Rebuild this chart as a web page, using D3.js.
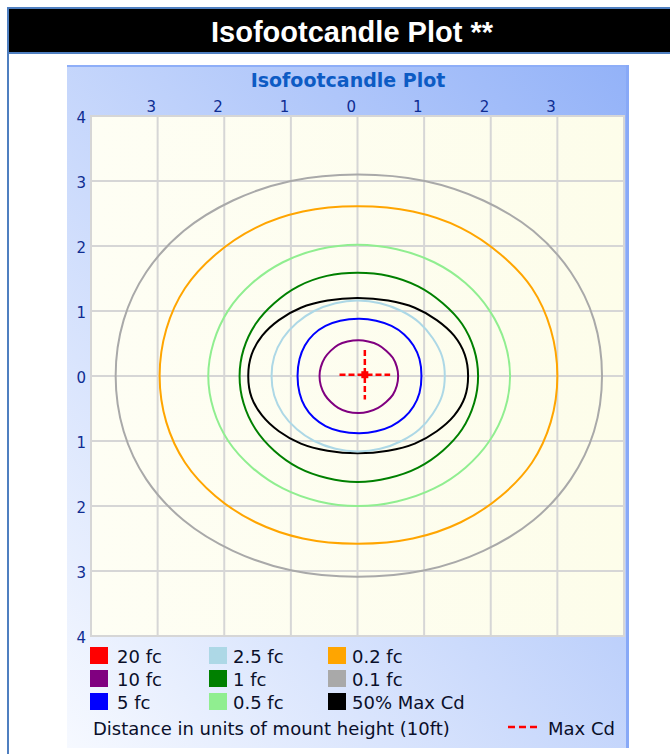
<!DOCTYPE html>
<meta charset="utf-8">
<script src="https://d3js.org/d3.v7.min.js"></script>
<div id="my_dataviz"></div>
<style>
body { margin: 0; background: #fff; }
.tick text { font-family: "DejaVu Sans"; }
</style>
<script>
// legend levels and their colours
var levels = ["20 fc", "10 fc", "5 fc", "2.5 fc", "1 fc", "0.5 fc", "0.2 fc", "0.1 fc", "50% Max Cd"];
var levelColors = ["#ff0000", "#800080", "#0000ff", "#add8e6", "#008000", "#90ee90", "#ffa500", "#a9a9a9", "#000000"];

// contour outlines, [x, y] in mount heights
var c01 = [[3.67,0],[3.55,0.86],[3.20,1.60],[2.64,2.23],[1.89,2.70],[1.01,3.00],[0,3.10],[-1.00,3.00],[-1.87,2.70],[-2.61,2.23],[-3.17,1.60],[-3.51,0.86],
  [-3.63,0],[-3.51,-0.85],[-3.17,-1.59],[-2.61,-2.22],[-1.87,-2.69],[-1.00,-2.99],[0,-3.09],[1.01,-2.99],[1.89,-2.69],[2.64,-2.22],[3.20,-1.59],[3.55,-0.85]];
var c02 = [[3.0,0],[2.90,0.72],[2.62,1.35],[2.15,1.87],[1.55,2.28],[0.83,2.53],[0,2.61],[-0.82,2.53],[-1.53,2.28],[-2.13,1.87],[-2.59,1.35],[-2.87,0.72],
  [-2.97,0],[-2.87,-0.71],[-2.59,-1.33],[-2.13,-1.85],[-1.53,-2.25],[-0.82,-2.50],[0,-2.58],[0.83,-2.50],[1.55,-2.25],[2.15,-1.85],[2.62,-1.33],[2.90,-0.71]];
var c05 = [[2.29,0],[2.21,0.52],[1.98,1.01],[1.62,1.43],[1.15,1.75],[0.59,1.95],[0,2.02],[-0.58,1.95],[-1.12,1.75],[-1.58,1.43],[-1.94,1.01],[-2.16,0.52],
  [-2.24,0],[-2.16,-0.52],[-1.94,-1.0],[-1.58,-1.41],[-1.12,-1.73],[-0.58,-1.93],[0,-2.0],[0.59,-1.93],[1.15,-1.73],[1.62,-1.41],[1.98,-1.0],[2.21,-0.52]];
var c1 = [[1.81,0],[1.75,0.41],[1.57,0.80],[1.28,1.12],[0.91,1.38],[0.47,1.54],[0,1.59],[-0.46,1.54],[-0.89,1.38],[-1.25,1.12],[-1.53,0.80],[-1.71,0.41],
  [-1.77,0],[-1.71,-0.42],[-1.53,-0.82],[-1.25,-1.15],[-0.89,-1.41],[-0.46,-1.57],[0,-1.63],[0.47,-1.57],[0.91,-1.41],[1.28,-1.15],[1.57,-0.82],[1.75,-0.42]];
var cMax50 = [[1.66,0],[1.61,0.33],[1.45,0.62],[1.19,0.86],[0.86,1.05],[0.46,1.16],[0,1.20],[-0.45,1.16],[-0.85,1.05],[-1.18,0.86],[-1.43,0.62],[-1.59,0.33],
  [-1.64,0],[-1.59,-0.33],[-1.43,-0.61],[-1.18,-0.85],[-0.85,-1.04],[-0.45,-1.15],[0,-1.19],[0.46,-1.15],[0.86,-1.04],[1.19,-0.85],[1.45,-0.61],[1.61,-0.33]];
var c25 = [[1.31,0],[1.27,0.30],[1.13,0.58],[0.93,0.82],[0.66,1.00],[0.34,1.12],[0,1.16],[-0.33,1.12],[-0.65,1.00],[-0.91,0.82],[-1.12,0.58],[-1.25,0.30],
  [-1.29,0],[-1.25,-0.30],[-1.12,-0.58],[-0.91,-0.82],[-0.65,-1.00],[-0.33,-1.12],[0,-1.16],[0.34,-1.12],[0.66,-1.00],[0.93,-0.82],[1.13,-0.58],[1.27,-0.30]];
var c5 = [[0.96,0],[0.93,0.26],[0.84,0.47],[0.70,0.64],[0.51,0.77],[0.28,0.85],[0.03,0.88],[-0.26,0.85],[-0.48,0.77],[-0.66,0.64],[-0.79,0.47],[-0.87,0.26],
  [-0.90,0],[-0.87,-0.26],[-0.79,-0.47],[-0.66,-0.64],[-0.48,-0.77],[-0.26,-0.85],[0.03,-0.88],[0.28,-0.85],[0.51,-0.77],[0.70,-0.64],[0.84,-0.47],[0.93,-0.26]];
var c10 = [[0.61,0],[0.59,0.14],[0.53,0.28],[0.43,0.39],[0.31,0.48],[0.16,0.53],[0.02,0.55],[-0.15,0.53],[-0.29,0.48],[-0.40,0.39],[-0.49,0.28],[-0.55,0.14],
  [-0.57,0],[-0.55,-0.15],[-0.49,-0.29],[-0.40,-0.40],[-0.29,-0.49],[-0.15,-0.55],[0.02,-0.57],[0.16,-0.55],[0.31,-0.49],[0.43,-0.40],[0.53,-0.29],[0.59,-0.15]];
var maxCd = [0.11, 0.02];

var contours = [
  {level: "0.1 fc", pts: c01},
  {level: "0.2 fc", pts: c02},
  {level: "0.5 fc", pts: c05},
  {level: "1 fc", pts: c1},
  {level: "50% Max Cd", pts: cMax50},
  {level: "2.5 fc", pts: c25},
  {level: "5 fc", pts: c5},
  {level: "10 fc", pts: c10}
];

var xTicks = [-3, -2, -1, 0, 1, 2, 3];
var yTicks = [-4, -3, -2, -1, 0, 1, 2, 3, 4];
var gridValues = [-4, -3, -2, -1, 0, 1, 2, 3, 4];

var W = 670, H = 754;
var plot = {left: 91, top: 116, right: 624, bottom: 636};

var svg = d3.select("#my_dataviz")
  .append("svg")
    .attr("width", W)
    .attr("height", H)
    .style("display", "block");

var defs = svg.append("defs");
var pg = defs.append("linearGradient").attr("id", "panelGrad")
  .attr("x1", 0).attr("y1", 1).attr("x2", 1).attr("y2", 0);
pg.append("stop").attr("offset", 0).attr("stop-color", "#f6f9ff");
pg.append("stop").attr("offset", 1).attr("stop-color", "#93b2f8");
var bg = defs.append("linearGradient").attr("id", "plotGrad")
  .attr("x1", 0).attr("y1", 0).attr("x2", 1).attr("y2", 0);
bg.append("stop").attr("offset", 0).attr("stop-color", "#fefef4");
bg.append("stop").attr("offset", 1).attr("stop-color", "#fdfdea");

// page frame and header bar
svg.append("rect").attr("x", 8).attr("y", 8).attr("width", W).attr("height", H)
  .attr("fill", "#fff").attr("stroke", "#4f7fc0").attr("stroke-width", 2);
svg.append("rect").attr("x", 9).attr("y", 9).attr("width", W).attr("height", 43)
  .attr("fill", "#000");
svg.append("rect").attr("x", 9).attr("y", 52).attr("width", W).attr("height", 2)
  .attr("fill", "#4f7fc0");
svg.append("text")
  .attr("x", 352).attr("y", 42)
  .attr("text-anchor", "middle")
  .style("font-family", "Liberation Sans")
  .style("font-weight", "bold")
  .style("font-size", "29px")
  .attr("fill", "#fff")
  .text("Isofootcandle Plot **");

// chart panel
svg.append("rect").attr("x", 67).attr("y", 65).attr("width", 561).attr("height", 683)
  .attr("fill", "url(#panelGrad)");
svg.append("rect").attr("x", 67).attr("y", 65).attr("width", 561).attr("height", 2)
  .attr("fill", "#8eaef8");
svg.append("rect").attr("x", 626).attr("y", 65).attr("width", 3).attr("height", 683)
  .attr("fill", "#88a9f7");

svg.append("text")
  .attr("x", 348).attr("y", 87)
  .attr("text-anchor", "middle")
  .style("font-family", "DejaVu Sans")
  .style("font-weight", "bold")
  .style("font-size", "19px")
  .attr("fill", "#0d5bc4")
  .text("Isofootcandle Plot");

var x = d3.scaleLinear().domain([-4, 4]).range([plot.left, plot.right]);
var y = d3.scaleLinear().domain([-4, 4]).range([plot.bottom, plot.top]);

svg.append("rect")
  .attr("x", plot.left).attr("y", plot.top)
  .attr("width", plot.right - plot.left).attr("height", plot.bottom - plot.top)
  .attr("fill", "url(#plotGrad)");

// grid
svg.append("g").selectAll("line.vg").data(gridValues).enter().append("line")
  .attr("x1", function(d){ return x(d); }).attr("x2", function(d){ return x(d); })
  .attr("y1", plot.top).attr("y2", plot.bottom)
  .attr("stroke", "#d6d6d6").attr("stroke-width", 2);
svg.append("g").selectAll("line.hg").data(gridValues).enter().append("line")
  .attr("y1", function(d){ return y(d); }).attr("y2", function(d){ return y(d); })
  .attr("x1", plot.left - 1).attr("x2", plot.right + 1)
  .attr("stroke", "#d6d6d6").attr("stroke-width", 2);

// axes: labels only
var xAxis = svg.append("g")
  .attr("transform", "translate(0," + plot.top + ")")
  .call(d3.axisTop(x).tickValues(xTicks).tickSize(0).tickPadding(4)
    .tickFormat(function(d){ return Math.abs(d); }));
xAxis.select(".domain").remove();
xAxis.selectAll("text")
  .attr("text-anchor", "end").attr("dx", -2)
  .style("font-size", "15px").attr("fill", "#0f2d92");

var yAxis = svg.append("g")
  .attr("transform", "translate(" + plot.left + ",0)")
  .call(d3.axisLeft(y).tickValues(yTicks).tickSize(0).tickPadding(5)
    .tickFormat(function(d){ return Math.abs(d); }));
yAxis.select(".domain").remove();
yAxis.selectAll("text")
  .attr("dy", "0.42em")
  .style("font-size", "15px").attr("fill", "#0f2d92");

// contours
var color = d3.scaleOrdinal().domain(levels).range(levelColors);
var line = d3.line()
  .x(function(d){ return x(d[0]); })
  .y(function(d){ return y(d[1]); })
  .curve(d3.curveCatmullRomClosed.alpha(0.5));

svg.append("g").selectAll("path").data(contours).enter().append("path")
  .attr("d", function(d){ return line(d.pts); })
  .attr("fill", "none")
  .attr("stroke", function(d){ return color(d.level); })
  .attr("stroke-width", 2);

// max candela marker
var crossHalf = 0.38;
svg.append("line")
  .attr("x1", x(maxCd[0] - crossHalf)).attr("x2", x(maxCd[0] + crossHalf))
  .attr("y1", y(maxCd[1])).attr("y2", y(maxCd[1]))
  .attr("stroke", "#ff0000").attr("stroke-width", 2.5).attr("stroke-dasharray", "6,3");
svg.append("line")
  .attr("x1", x(maxCd[0])).attr("x2", x(maxCd[0]))
  .attr("y1", y(maxCd[1] + crossHalf)).attr("y2", y(maxCd[1] - crossHalf))
  .attr("stroke", "#ff0000").attr("stroke-width", 2.5).attr("stroke-dasharray", "6,3");
svg.append("rect")
  .attr("x", x(maxCd[0]) - 3.5).attr("y", y(maxCd[1]) - 3.5)
  .attr("width", 7).attr("height", 7).attr("fill", "#ff0000");

// legend
var colSwatch = [90, 209, 328], colText = [117, 233, 352];
var rowY = [647, 670, 693];
var leg = svg.append("g").selectAll("g").data(levels).enter().append("g");
leg.append("rect")
  .attr("x", function(d, i){ return colSwatch[Math.floor(i / 3)]; })
  .attr("y", function(d, i){ return rowY[i % 3]; })
  .attr("width", 18).attr("height", 17)
  .attr("fill", function(d){ return color(d); });
leg.append("text")
  .attr("x", function(d, i){ return colText[Math.floor(i / 3)]; })
  .attr("y", function(d, i){ return rowY[i % 3] + 16; })
  .style("font-family", "DejaVu Sans")
  .style("font-size", "18px")
  .attr("fill", "#0a0f2a")
  .text(function(d){ return d; });

svg.append("text")
  .attr("x", 93).attr("y", 735)
  .style("font-family", "DejaVu Sans")
  .style("font-size", "18px")
  .attr("fill", "#0a0f2a")
  .text("Distance in units of mount height (10ft)");

svg.append("line")
  .attr("x1", 508).attr("x2", 538).attr("y1", 727).attr("y2", 727)
  .attr("stroke", "#ff0000").attr("stroke-width", 2.5).attr("stroke-dasharray", "7,4");
svg.append("text")
  .attr("x", 548).attr("y", 735)
  .style("font-family", "DejaVu Sans")
  .style("font-size", "18px")
  .attr("fill", "#0a0f2a")
  .text("Max Cd");
</script>
